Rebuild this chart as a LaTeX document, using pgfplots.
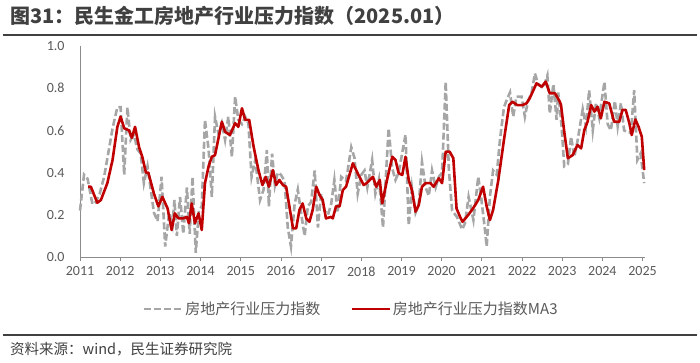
\documentclass[border=0pt]{standalone}
\usepackage{pgfplots}
\pgfplotsset{compat=1.18}
\usepackage{pgfplotstable}
\usepackage{fontspec}
\setmainfont{Carlito}
\newfontfamily\cjk{Noto Sans CJK SC}
\definecolor{tg}{HTML}{404040}
\definecolor{tl}{HTML}{595959}
\definecolor{ax}{HTML}{8C8C8C}
\definecolor{lg}{HTML}{A6A6A6}
\definecolor{rd}{HTML}{C00000}

\pgfplotstableread{
x y
2011.00 0.22
2011.10 0.39
2011.19 0.37
2011.31 0.25
2011.39 0.26
2011.49 0.30
2011.60 0.38
2011.72 0.51
2011.81 0.61
2011.93 0.71
2012.01 0.71
2012.10 0.39
2012.18 0.71
2012.26 0.555
2012.34 0.58
2012.43 0.51
2012.51 0.49
2012.59 0.35
2012.68 0.43
2012.76 0.32
2012.84 0.21
2012.93 0.17
2013.03 0.38
2013.12 0.05
2013.22 0.21
2013.30 0.15
2013.35 0.27
2013.41 0.10
2013.49 0.285
2013.57 0.11
2013.66 0.33
2013.73 0.11
2013.80 0.38
2013.88 0.02
2013.96 0.22
2014.03 0.24
2014.11 0.65
2014.20 0.51
2014.28 0.285
2014.36 0.665
2014.45 0.58
2014.53 0.634
2014.61 0.555
2014.69 0.665
2014.78 0.475
2014.86 0.76
2014.94 0.65
2015.03 0.63
2015.11 0.665
2015.19 0.634
2015.27 0.38
2015.36 0.46
2015.48 0.27
2015.57 0.32
2015.65 0.507
2015.70 0.24
2015.78 0.49
2015.85 0.34
2015.92 0.40
2016.00 0.39
2016.09 0.36
2016.17 0.14
2016.25 0.05
2016.34 0.25
2016.42 0.32
2016.50 0.21
2016.59 0.10
2016.67 0.24
2016.75 0.26
2016.84 0.41
2016.92 0.14
2017.00 0.30
2017.08 0.22
2017.17 0.20
2017.25 0.25
2017.33 0.365
2017.41 0.21
2017.50 0.38
2017.62 0.36
2017.75 0.52
2017.83 0.47
2017.91 0.30
2018.00 0.39
2018.08 0.41
2018.15 0.33
2018.27 0.46
2018.35 0.30
2018.44 0.37
2018.54 0.14
2018.68 0.61
2018.77 0.42
2018.85 0.365
2018.93 0.40
2019.10 0.58
2019.18 0.15
2019.26 0.33
2019.35 0.21
2019.43 0.25
2019.51 0.45
2019.60 0.33
2019.68 0.29
2019.76 0.41
2019.85 0.33
2019.93 0.38
2020.01 0.40
2020.10 0.83
2020.18 0.41
2020.26 0.22
2020.38 0.19
2020.51 0.13
2020.58 0.16
2020.67 0.285
2020.79 0.175
2020.91 0.38
2020.99 0.27
2021.07 0.14
2021.12 0.05
2021.20 0.285
2021.28 0.41
2021.37 0.39
2021.45 0.555
2021.55 0.71
2021.61 0.74
2021.70 0.78
2021.78 0.665
2021.86 0.76
2021.99 0.76
2022.07 0.665
2022.15 0.74
2022.24 0.78
2022.32 0.87
2022.40 0.82
2022.53 0.80
2022.63 0.86
2022.69 0.68
2022.78 0.82
2022.86 0.65
2022.90 0.78
2022.98 0.63
2023.05 0.43
2023.14 0.44
2023.22 0.57
2023.30 0.475
2023.38 0.55
2023.51 0.70
2023.59 0.62
2023.67 0.79
2023.76 0.60
2023.84 0.73
2023.92 0.66
2024.05 0.83
2024.13 0.63
2024.21 0.60
2024.31 0.74
2024.38 0.62
2024.46 0.73
2024.54 0.60
2024.63 0.59
2024.71 0.59
2024.79 0.79
2024.87 0.46
2024.95 0.49
2025.04 0.35
}\raw

\pgfplotstableread{
x y
2011.20 0.333
2011.27 0.333
2011.43 0.257
2011.52 0.27
2011.68 0.35
2011.81 0.46
2011.93 0.617
2012.01 0.665
2012.10 0.61
2012.22 0.60
2012.29 0.565
2012.37 0.617
2012.47 0.52
2012.55 0.475
2012.64 0.40
2012.70 0.40
2012.84 0.30
2012.95 0.24
2013.05 0.285
2013.18 0.23
2013.28 0.128
2013.36 0.207
2013.45 0.183
2013.57 0.183
2013.66 0.19
2013.71 0.16
2013.78 0.254
2013.86 0.16
2013.95 0.207
2014.03 0.128
2014.11 0.35
2014.20 0.43
2014.28 0.475
2014.36 0.483
2014.53 0.641
2014.61 0.594
2014.73 0.578
2014.86 0.634
2014.94 0.617
2015.03 0.705
2015.11 0.65
2015.21 0.65
2015.32 0.523
2015.44 0.412
2015.54 0.341
2015.62 0.38
2015.70 0.333
2015.80 0.412
2015.88 0.341
2015.96 0.365
2016.05 0.341
2016.13 0.333
2016.21 0.24
2016.30 0.136
2016.38 0.136
2016.46 0.223
2016.54 0.254
2016.63 0.183
2016.71 0.167
2016.79 0.223
2016.88 0.333
2016.96 0.294
2017.04 0.27
2017.12 0.183
2017.25 0.19
2017.29 0.183
2017.37 0.24
2017.46 0.24
2017.54 0.317
2017.62 0.333
2017.79 0.444
2017.93 0.389
2018.06 0.341
2018.13 0.35
2018.21 0.365
2018.29 0.38
2018.37 0.333
2018.46 0.365
2018.52 0.254
2018.64 0.365
2018.77 0.475
2018.85 0.46
2018.93 0.397
2019.02 0.389
2019.10 0.475
2019.18 0.365
2019.26 0.317
2019.35 0.215
2019.43 0.246
2019.51 0.333
2019.60 0.35
2019.72 0.35
2019.80 0.333
2019.93 0.373
2020.01 0.35
2020.10 0.499
2020.20 0.499
2020.29 0.468
2020.37 0.23
2020.47 0.185
2020.52 0.167
2020.66 0.199
2020.78 0.23
2020.91 0.27
2021.03 0.333
2021.12 0.24
2021.20 0.175
2021.28 0.223
2021.41 0.365
2021.55 0.555
2021.68 0.72
2021.76 0.736
2021.88 0.72
2022.01 0.72
2022.11 0.728
2022.19 0.752
2022.36 0.823
2022.49 0.807
2022.59 0.831
2022.69 0.776
2022.82 0.776
2022.94 0.736
2022.97 0.72
2023.05 0.594
2023.14 0.468
2023.26 0.483
2023.38 0.531
2023.47 0.515
2023.55 0.602
2023.63 0.641
2023.72 0.72
2023.80 0.689
2023.88 0.712
2023.96 0.657
2024.05 0.736
2024.17 0.728
2024.29 0.641
2024.42 0.641
2024.50 0.697
2024.58 0.697
2024.67 0.634
2024.73 0.578
2024.82 0.652
2024.90 0.617
2024.98 0.57
2025.04 0.412
}\ma

\begin{document}
\begin{tikzpicture}[x=1pt,y=1pt]
\path[use as bounding box] (0,0) rectangle (700,362);
\node[anchor=west, text=tg, inner sep=0] at (10,346) {\cjk\bfseries\fontsize{20}{20}\selectfont 图31：民生金工房地产行业压力指数（2025.01）};
\draw[tg, line width=1.5pt] (3,327) -- (697,327);
\begin{axis}[
  at={(80pt,105pt)}, anchor=south west,
  scale only axis, width=565pt, height=211pt,
  xmin=2011, xmax=2025.06, ymin=0, ymax=1,
  axis x line=bottom, axis y line=left,
  axis line style={-, draw=ax, line width=1pt},
  xtick={2011,2012,...,2025},
  ytick={0,0.2,0.4,0.6,0.8,1},
  tick align=outside,
  major tick length=4pt,
  xtick style={draw=ax, line width=0.8pt},
  ytick style={draw=none},
  tick label style={font=\fontsize{14}{14}\selectfont, text=tl},
  /pgf/number format/assume math mode=true,
  xticklabel style={/pgf/number format/1000 sep={}, yshift=-2pt},
  yticklabel style={/pgf/number format/.cd, fixed, fixed zerofill, precision=1, /tikz/.cd, xshift=-8pt},
  legend columns=2,
  legend style={at={(0.48,-0.246)}, anchor=center, draw=none, fill=none,
    font=\cjk\fontsize{15}{15}\selectfont, text=tl,
    /tikz/every even column/.append style={column sep=28pt}},
  legend image code/.code={\draw[#1] (0pt,0pt) -- (38pt,0pt);},
  clip=false,
]
\addplot[lg, line width=2.6pt, dash pattern=on 7pt off 3pt] table[x=x,y=y] {\raw};
\addlegendentry{房地产行业压力指数}
\addplot[rd, line width=2.6pt, line join=round] table[x=x,y=y] {\ma};
\addlegendentry{房地产行业压力指数MA3}
\end{axis}
\draw[tg, line width=1.5pt] (3,27) -- (697,27);
\node[anchor=west, text=tg, inner sep=0] at (10,13) {\cjk\fontsize{14.5}{14.5}\selectfont 资料来源：wind，民生证券研究院};
\end{tikzpicture}
\end{document}
